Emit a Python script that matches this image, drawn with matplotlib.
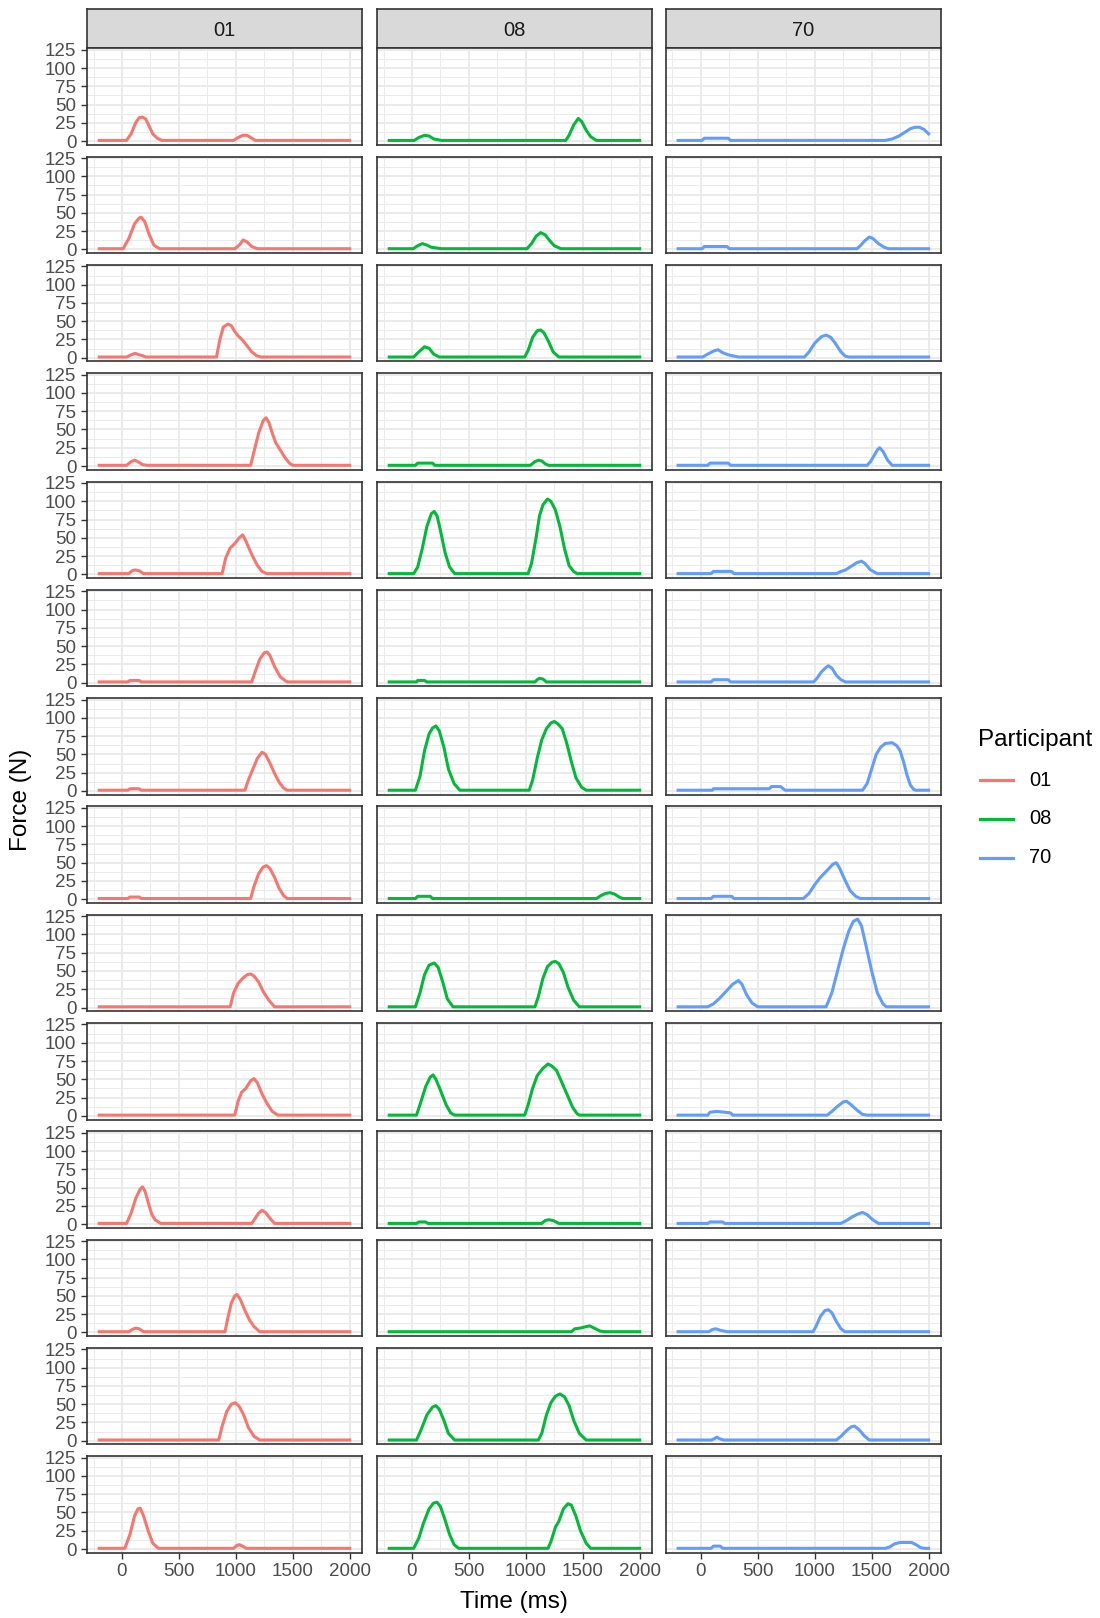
import matplotlib
matplotlib.use('Agg')
import matplotlib.pyplot as plt
from matplotlib.lines import Line2D
from matplotlib.ticker import FixedLocator

plt.rcParams['font.family'] = ['Liberation Sans', 'DejaVu Sans']

# participants shown as facet columns, trials as rows
PARTICIPANTS = ['01', '08', '70']
COLORS = ['#F8766D', '#00BA38', '#619CFF']

# each trial: (time ms, force N) samples
P01_TRIALS = [
    [(-200, 1), (40, 1), (80, 10), (120, 25), (150, 32), (180, 33), (210, 30), (240, 20), (270, 10), (310, 4), (350, 1),
     (980, 1), (1020, 5), (1060, 8), (1100, 8), (1140, 4), (1170, 1), (2000, 1)],
    [(-200, 1), (10, 1), (60, 15), (110, 35), (150, 43), (170, 44), (200, 38), (240, 20), (280, 6), (330, 1),
     (990, 1), (1030, 6), (1065, 13), (1100, 10), (1140, 4), (1190, 1), (2000, 1)],
    [(-200, 1), (40, 1), (80, 4), (115, 6), (150, 4), (180, 3), (210, 1), (830, 1), (860, 25), (890, 42), (930, 46),
     (960, 44), (990, 36), (1020, 30), (1060, 24), (1100, 16), (1140, 8), (1180, 3), (1220, 1), (2000, 1)],
    [(-200, 1), (40, 1), (80, 6), (110, 8), (140, 6), (180, 2), (220, 1), (1130, 1), (1160, 20), (1200, 45),
     (1240, 62), (1265, 66), (1290, 60), (1320, 45), (1350, 32), (1390, 22), (1430, 12), (1470, 4), (1500, 1), (2000, 1)],
    [(-200, 1), (60, 1), (90, 5), (115, 6), (150, 5), (190, 1), (880, 1), (910, 22), (950, 36), (990, 42),
     (1030, 50), (1060, 54), (1090, 45), (1120, 34), (1150, 24), (1190, 12), (1230, 4), (1270, 1), (2000, 1)],
    [(-200, 1), (50, 1), (70, 3), (150, 3), (170, 1), (1140, 1), (1170, 15), (1210, 32), (1250, 41), (1275, 42),
     (1300, 37), (1340, 22), (1390, 8), (1440, 2), (1460, 1), (2000, 1)],
    [(-200, 1), (50, 1), (70, 3), (150, 3), (170, 1), (1080, 1), (1110, 15), (1150, 30), (1190, 45), (1230, 53),
     (1260, 50), (1300, 38), (1340, 24), (1380, 12), (1420, 4), (1450, 1), (2000, 1)],
    [(-200, 1), (50, 1), (70, 3), (150, 3), (170, 1), (1130, 1), (1160, 18), (1200, 35), (1240, 44), (1270, 46),
     (1300, 42), (1340, 30), (1380, 15), (1420, 5), (1450, 1), (2000, 1)],
    [(-200, 1), (950, 1), (980, 20), (1020, 33), (1060, 40), (1100, 45), (1130, 46), (1160, 43), (1200, 35),
     (1240, 22), (1290, 10), (1340, 1), (2000, 1)],
    [(-200, 1), (990, 1), (1020, 20), (1050, 32), (1090, 38), (1130, 48), (1160, 51), (1190, 45), (1230, 30),
     (1270, 18), (1320, 6), (1370, 1), (2000, 1)],
    [(-200, 1), (40, 1), (80, 15), (120, 35), (160, 48), (180, 51), (200, 46), (230, 30), (260, 14), (290, 6), (340, 1),
     (1140, 1), (1170, 8), (1200, 15), (1230, 19), (1260, 16), (1300, 8), (1340, 1), (2000, 1)],
    [(-200, 1), (60, 1), (90, 4), (120, 6), (150, 5), (190, 1), (905, 1), (930, 20), (960, 40), (990, 50),
     (1010, 52), (1040, 45), (1080, 30), (1120, 17), (1160, 8), (1210, 1), (2000, 1)],
    [(-200, 1), (850, 1), (880, 20), (920, 40), (960, 50), (995, 52), (1030, 47), (1070, 35), (1110, 18), (1160, 6),
     (1210, 1), (2000, 1)],
    [(-200, 1), (25, 1), (70, 20), (110, 45), (140, 55), (160, 56), (190, 45), (230, 25), (270, 8), (320, 1),
     (980, 1), (1010, 5), (1030, 6), (1060, 4), (1090, 1), (2000, 1)],
]

P08_TRIALS = [
    [(-200, 1), (20, 1), (60, 5), (110, 8), (150, 7), (190, 3), (260, 1), (1350, 1), (1380, 8), (1420, 22),
     (1460, 31), (1490, 27), (1530, 15), (1570, 6), (1620, 1), (2000, 1)],
    [(-200, 1), (10, 1), (50, 5), (90, 8), (130, 6), (170, 3), (260, 1), (1010, 1), (1050, 8), (1090, 18),
     (1130, 23), (1170, 20), (1210, 12), (1250, 5), (1310, 1), (2000, 1)],
    [(-200, 1), (15, 1), (60, 8), (110, 15), (150, 13), (190, 5), (240, 1), (990, 1), (1020, 10), (1060, 28),
     (1100, 37), (1130, 38), (1160, 34), (1200, 22), (1240, 8), (1290, 1), (2000, 1)],
    [(-200, 1), (30, 1), (50, 4), (180, 4), (200, 1), (1040, 1), (1080, 6), (1110, 8), (1140, 7), (1170, 3),
     (1200, 1), (2000, 1)],
    [(-200, 1), (15, 1), (50, 10), (90, 35), (130, 65), (170, 83), (195, 86), (220, 80), (250, 60), (290, 30),
     (330, 10), (375, 1), (1020, 1), (1050, 15), (1090, 50), (1120, 80), (1150, 95), (1190, 103), (1220, 100),
     (1260, 88), (1300, 65), (1340, 35), (1380, 12), (1420, 4), (1450, 1), (2000, 1)],
    [(-200, 1), (40, 1), (50, 3), (110, 3), (130, 1), (1080, 1), (1100, 4), (1120, 6), (1150, 5), (1180, 1), (2000, 1)],
    [(-200, 1), (30, 1), (70, 20), (110, 55), (150, 78), (180, 86), (210, 89), (240, 82), (280, 60), (320, 30),
     (370, 10), (420, 1), (1030, 1), (1060, 15), (1100, 45), (1140, 70), (1180, 85), (1220, 93), (1250, 95),
     (1280, 92), (1320, 85), (1360, 65), (1400, 40), (1440, 18), (1490, 5), (1530, 1), (2000, 1)],
    [(-200, 1), (30, 1), (50, 4), (160, 4), (180, 1), (1620, 1), (1660, 5), (1700, 8), (1740, 9), (1780, 7),
     (1820, 3), (1850, 1), (2000, 1)],
    [(-200, 1), (30, 1), (70, 20), (110, 45), (150, 58), (195, 61), (230, 55), (270, 35), (310, 12), (360, 1),
     (1080, 1), (1110, 15), (1150, 40), (1190, 56), (1230, 62), (1260, 63), (1290, 60), (1330, 48), (1370, 28),
     (1420, 10), (1470, 1), (2000, 1)],
    [(-200, 1), (40, 1), (80, 20), (120, 40), (160, 53), (185, 56), (210, 50), (250, 35), (300, 15), (340, 4),
     (375, 1), (990, 1), (1020, 15), (1060, 38), (1100, 55), (1150, 65), (1195, 71), (1230, 68), (1270, 62),
     (1310, 48), (1360, 30), (1410, 12), (1450, 3), (1470, 1), (2000, 1)],
    [(-200, 1), (40, 1), (60, 3), (120, 3), (140, 1), (1140, 1), (1170, 5), (1200, 6), (1240, 5), (1290, 1), (2000, 1)],
    [(-200, 1), (1400, 1), (1430, 5), (1480, 6), (1530, 8), (1560, 9), (1600, 6), (1650, 2), (1690, 1), (2000, 1)],
    [(-200, 1), (40, 1), (80, 15), (130, 35), (180, 46), (210, 48), (240, 43), (280, 28), (320, 10), (375, 1),
     (1110, 1), (1140, 10), (1180, 35), (1220, 52), (1260, 61), (1300, 64), (1340, 60), (1380, 48), (1420, 28),
     (1470, 10), (1530, 1), (2000, 1)],
    [(-200, 1), (15, 1), (60, 15), (100, 35), (150, 55), (190, 63), (220, 64), (250, 58), (290, 40), (330, 20),
     (370, 6), (410, 1), (1195, 1), (1220, 10), (1260, 30), (1290, 38), (1330, 55), (1370, 62), (1400, 60),
     (1440, 45), (1480, 25), (1530, 8), (1570, 1), (2000, 1)],
]

P70_TRIALS = [
    [(-200, 1), (10, 1), (30, 4), (240, 4), (260, 1), (1620, 1), (1680, 3), (1740, 7), (1790, 12), (1840, 17),
     (1880, 19), (1920, 19), (1960, 16), (2000, 10)],
    [(-200, 1), (10, 1), (30, 4), (230, 4), (250, 1), (1370, 1), (1400, 5), (1440, 12), (1480, 17), (1510, 15),
     (1560, 8), (1610, 3), (1650, 1), (2000, 1)],
    [(-200, 1), (15, 1), (60, 5), (110, 9), (150, 11), (190, 7), (240, 4), (300, 2), (330, 1), (910, 1), (950, 8),
     (1000, 20), (1060, 29), (1100, 31), (1140, 28), (1180, 20), (1230, 8), (1270, 2), (1300, 1), (2000, 1)],
    [(-200, 1), (60, 1), (80, 4), (240, 4), (260, 1), (1460, 1), (1490, 6), (1520, 14), (1550, 22), (1570, 25),
     (1600, 20), (1640, 8), (1680, 1), (2000, 1)],
    [(-200, 1), (90, 1), (110, 4), (270, 4), (290, 1), (1190, 1), (1230, 4), (1270, 6), (1320, 11), (1370, 16),
     (1410, 18), (1440, 15), (1490, 6), (1550, 1), (2000, 1)],
    [(-200, 1), (90, 1), (110, 4), (240, 4), (260, 1), (990, 1), (1020, 6), (1060, 15), (1100, 21), (1120, 23),
     (1150, 20), (1190, 10), (1230, 4), (1270, 1), (2000, 1)],
    [(-200, 1), (100, 1), (110, 3), (600, 3), (620, 6), (700, 6), (740, 1), (1420, 1), (1460, 10), (1500, 30),
     (1540, 50), (1580, 60), (1620, 65), (1680, 66), (1720, 62), (1750, 55), (1780, 40), (1810, 22), (1840, 8),
     (1870, 2), (1890, 1), (2000, 1)],
    [(-200, 1), (90, 1), (110, 4), (270, 4), (290, 1), (900, 1), (950, 8), (1000, 20), (1050, 30), (1100, 38),
     (1160, 48), (1190, 50), (1220, 42), (1260, 28), (1310, 12), (1360, 4), (1400, 1), (2000, 1)],
    [(-200, 1), (60, 1), (110, 5), (160, 12), (220, 22), (280, 32), (330, 37), (360, 32), (400, 18), (450, 6),
     (500, 1), (1100, 1), (1150, 20), (1200, 50), (1250, 80), (1300, 105), (1340, 118), (1377, 121), (1410, 112),
     (1450, 85), (1500, 50), (1550, 20), (1600, 5), (1630, 1), (2000, 1)],
    [(-200, 1), (60, 1), (80, 5), (140, 6), (210, 5), (260, 4), (280, 1), (1110, 1), (1150, 6), (1200, 13),
     (1250, 19), (1280, 20), (1320, 15), (1370, 8), (1420, 2), (1460, 1), (2000, 1)],
    [(-200, 1), (60, 1), (80, 3), (190, 3), (210, 1), (1230, 1), (1280, 5), (1330, 10), (1380, 14), (1420, 16),
     (1460, 13), (1510, 6), (1560, 1), (2000, 1)],
    [(-200, 1), (70, 1), (100, 4), (130, 5), (170, 3), (230, 1), (985, 1), (1010, 8), (1050, 22), (1090, 30),
     (1120, 31), (1150, 27), (1190, 15), (1230, 5), (1265, 1), (2000, 1)],
    [(-200, 1), (90, 1), (120, 3), (140, 5), (160, 3), (200, 1), (1190, 1), (1230, 6), (1280, 14), (1320, 19),
     (1350, 20), (1390, 15), (1440, 6), (1480, 1), (2000, 1)],
    [(-200, 1), (90, 1), (110, 4), (170, 4), (190, 1), (1620, 1), (1660, 3), (1700, 7), (1750, 9), (1850, 9),
     (1890, 6), (1930, 2), (1960, 1), (2000, 1)],
]

X_TICKS = [0, 500, 1000, 1500, 2000]
Y_TICKS = [0, 25, 50, 75, 100, 125]

ALL_TRIALS = [P01_TRIALS, P08_TRIALS, P70_TRIALS]

# layout in pixels of the 1100x1618 canvas
W, H = 1100, 1618
LEFTS = [86.7, 376.7, 665.6]
PW = 275.5
TOP0 = 48.3
PITCH = 108.3
PH = 96.5
STRIP_H = 39

n_rows = len(P01_TRIALS)

# shared scales with ggplot-like 5% expansion
all_t = [t for trials in ALL_TRIALS for tr in trials for t, f in tr]
all_f = [f for trials in ALL_TRIALS for tr in trials for t, f in tr]
xr = max(all_t) - min(all_t)
yr = max(all_f) - min(all_f)
XLIM = (min(all_t) - 0.05 * xr, max(all_t) + 0.05 * xr)
YLIM = (min(all_f) - 0.05 * yr, max(all_f) + 0.05 * yr)

fig = plt.figure(figsize=(W / 100, H / 100), dpi=100)

for c, (name, color, trials) in enumerate(zip(PARTICIPANTS, COLORS, ALL_TRIALS)):
    left = LEFTS[c]
    # facet strip
    sax = fig.add_axes([left / W, 1 - TOP0 / H, PW / W, STRIP_H / H])
    sax.set_facecolor('#D9D9D9')
    sax.set_xticks([])
    sax.set_yticks([])
    for sp in sax.spines.values():
        sp.set_color('#333333')
        sp.set_linewidth(1.2)
    sax.text(0.5, 0.45, name, ha='center', va='center', fontsize=14.5, color='#1A1A1A', transform=sax.transAxes)

    for r, trial in enumerate(trials):
        top = TOP0 + r * PITCH
        ax = fig.add_axes([left / W, 1 - (top + PH) / H, PW / W, PH / H])
        ts = [p[0] for p in trial]
        fs = [p[1] for p in trial]
        ax.plot(ts, fs, color=color, lw=2.2, solid_joinstyle='round')
        ax.set_xlim(XLIM)
        ax.set_ylim(YLIM)
        ax.xaxis.set_major_locator(FixedLocator(X_TICKS))
        ax.xaxis.set_minor_locator(FixedLocator([-250, 250, 750, 1250, 1750]))
        ax.yaxis.set_major_locator(FixedLocator(Y_TICKS))
        ax.yaxis.set_minor_locator(FixedLocator([12.5, 37.5, 62.5, 87.5, 112.5]))
        ax.grid(which='major', color='#EBEBEB', lw=1.4)
        ax.grid(which='minor', color='#EBEBEB', lw=0.7)
        ax.set_axisbelow(True)
        ax.tick_params(which='minor', length=0)
        ax.tick_params(which='major', length=4.5, width=1.0, color='#333333',
                       labelsize=13.5, labelcolor='#4D4D4D', pad=3)
        for sp in ax.spines.values():
            sp.set_color('#333333')
            sp.set_linewidth(1.2)
        if c != 0:
            ax.tick_params(axis='y', labelleft=False, length=0)
        if r != n_rows - 1:
            ax.tick_params(axis='x', labelbottom=False, length=0)

fig.text(20.6 / W, 1 - 800 / H, 'Force (N)', rotation=90, ha='center', va='center', fontsize=17.5)
fig.text(514 / W, 1 - 1602 / H, 'Time (ms)', ha='center', va='center', fontsize=17.5)

# legend drawn by hand to place it like the ggplot guide
fig.text(978 / W, 1 - 740 / H, 'Participant', ha='left', va='center', fontsize=17.5)
for i, (name, color) in enumerate(zip(PARTICIPANTS, COLORS)):
    y = 1 - (780 + i * 39) / H
    fig.add_artist(Line2D([980 / W, 1013 / W], [y, y], color=color, lw=2.3, transform=fig.transFigure))
    fig.text(1029 / W, y, name, ha='left', va='center', fontsize=14.5)

fig.savefig('out.png', dpi=100)
